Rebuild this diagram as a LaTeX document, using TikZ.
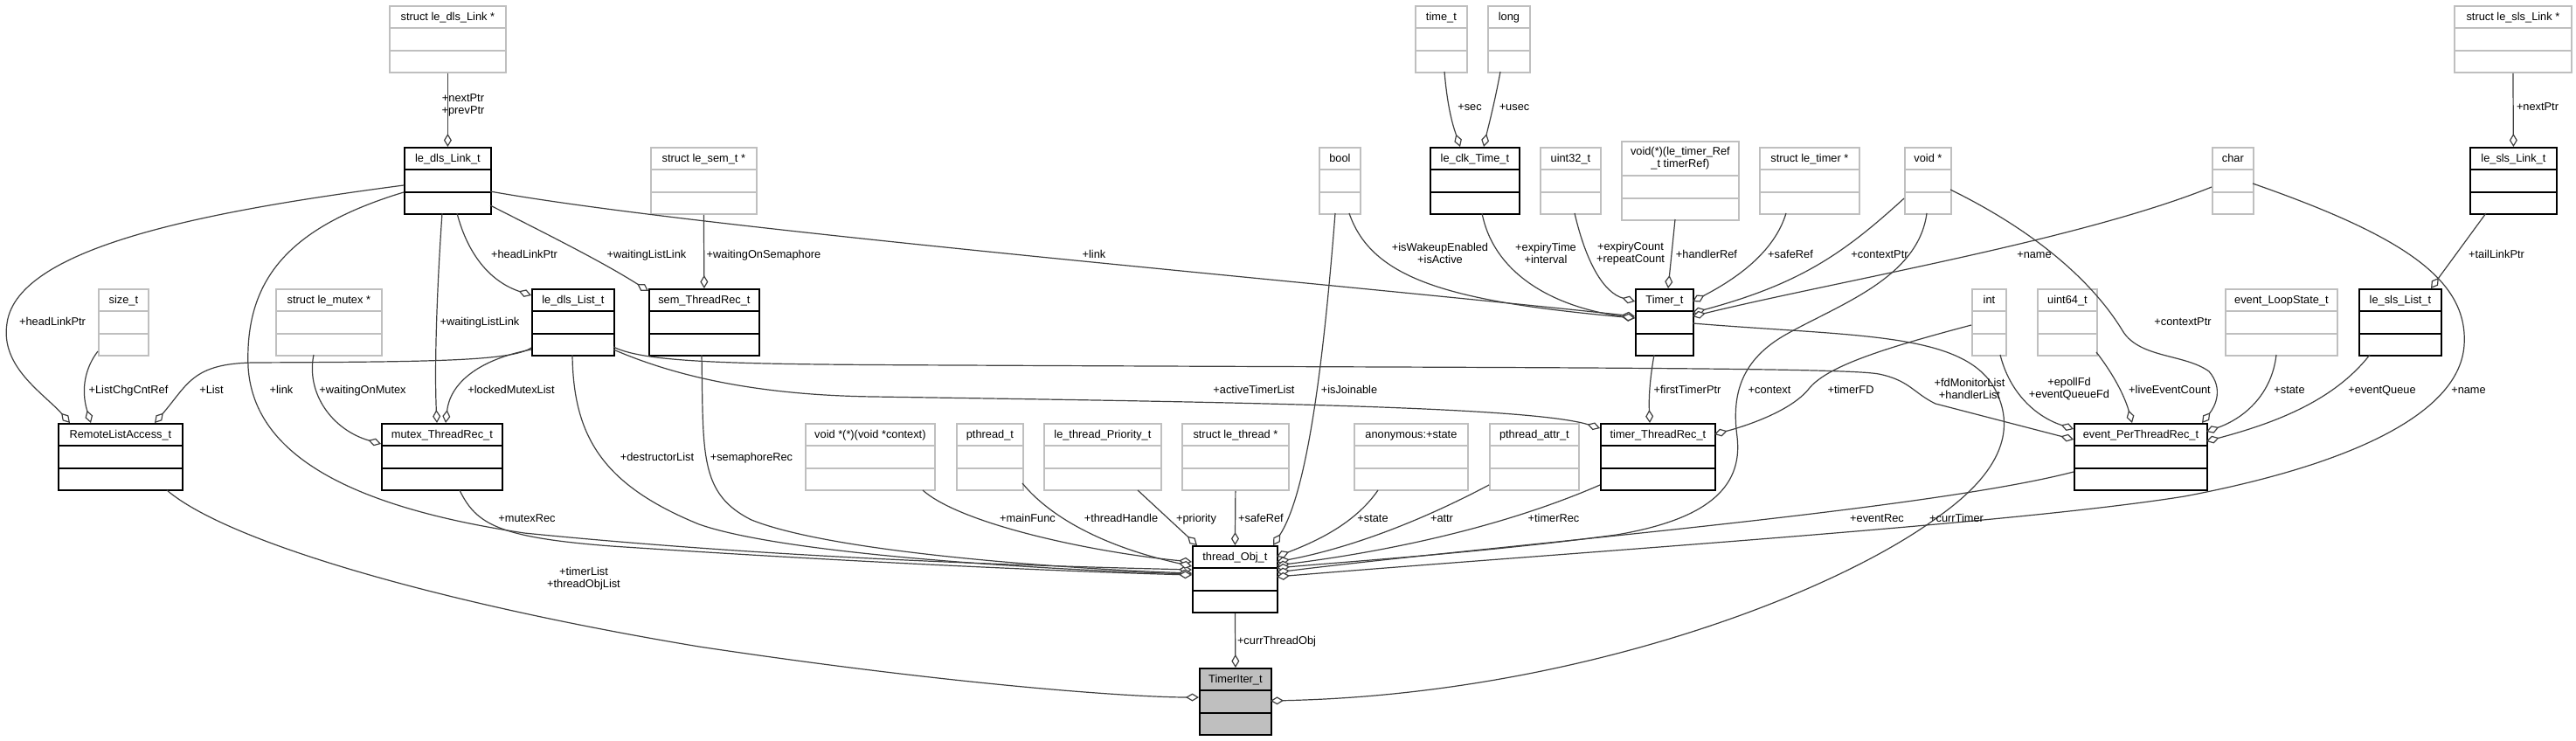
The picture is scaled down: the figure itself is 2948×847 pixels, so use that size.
\documentclass[tikz,border=0pt]{standalone}
\usepackage{fontspec}
\setmainfont{Liberation Sans}
\usetikzlibrary{arrows.meta}
\definecolor{boxgray}{HTML}{BFBFBF}
\definecolor{linegray}{HTML}{404040}

\begin{document}
\begin{tikzpicture}[x=1pt,y=-1pt,
        font=\fontsize{12.8}{14}\selectfont,
        >={Diamond[length=15pt,width=9pt,fill=white]},
        box/.style={draw=#1, line width=1.8pt, fill=white, anchor=north west, inner sep=0pt,
            text height=16.5pt, text depth=59.5pt,
            path picture={\draw[#1, line width=1.8pt]
                ([yshift=25.3pt]path picture bounding box.south west) -- ([yshift=25.3pt]path picture bounding box.south east)
                ([yshift=50.6pt]path picture bounding box.south west) -- ([yshift=50.6pt]path picture bounding box.south east);}},
        cls/.style={box=black},
        typ/.style={box=boxgray},
        agg/.style={->, draw=linegray, line width=1.2pt},
        lbl/.style={anchor=base, inner sep=0pt},
        lbltwo/.style={align=center, inner sep=0pt}]
    \useasboundingbox (0,0) rectangle (2948,847);

    % row 0
    \node[typ, minimum width=133pt] (dlsLinkPtr) at (445,6) {struct le\_dls\_Link *};
    \node[typ, minimum width=59pt] (timeT) at (1619,6) {time\_t};
    \node[typ, minimum width=48pt] (longT) at (1702,6) {long};
    \node[typ, minimum width=134pt] (slsLinkPtr) at (2808,6) {struct le\_sls\_Link *};
    % row 1
    \node[cls, minimum width=99pt] (dlsLink) at (462,168) {le\_dls\_Link\_t};
    \node[typ, minimum width=121pt] (semPtr) at (744,168) {struct le\_sem\_t *};
    \node[typ, minimum width=47pt] (boolT) at (1509,168) {bool};
    \node[cls, minimum width=102pt] (clkTime) at (1636,168) {le\_clk\_Time\_t};
    \node[typ, minimum width=69pt] (uint32T) at (1762,168) {uint32\_t};
    \node[typ, minimum width=134pt, text height=16pt, text depth=74pt] (handlerFn) at (1855,161)
        {\begin{tabular}[t]{@{}c@{}}void(*)(le\_timer\_Ref\\\_t timerRef)\end{tabular}};
    \node[typ, minimum width=114pt] (timerPtr) at (2013,168) {struct le\_timer *};
    \node[typ, minimum width=53pt] (voidPtr) at (2179,168) {void *};
    \node[typ, minimum width=47pt] (charT) at (2531,168) {char};
    \node[cls, minimum width=99pt] (slsLink) at (2826,168) {le\_sls\_Link\_t};
    % row 2
    \node[typ, minimum width=57pt] (sizeT) at (112,330) {size\_t};
    \node[typ, minimum width=121pt] (mutexPtr) at (315,330) {struct le\_mutex *};
    \node[cls, minimum width=94pt] (dlsList) at (608,330) {le\_dls\_List\_t};
    \node[cls, minimum width=126pt] (semRec) at (742,330) {sem\_ThreadRec\_t};
    \node[cls, minimum width=66pt] (timer) at (1871,330) {Timer\_t};
    \node[typ, minimum width=39pt] (intT) at (2256,330) {int};
    \node[typ, minimum width=68pt] (uint64T) at (2331,330) {uint64\_t};
    \node[typ, minimum width=128pt] (loopState) at (2546,330) {event\_LoopState\_t};
    \node[cls, minimum width=94pt] (slsList) at (2699,330) {le\_sls\_List\_t};
    % row 3
    \node[cls, minimum width=142pt] (remoteList) at (66,484) {RemoteListAccess\_t};
    \node[cls, minimum width=138pt] (mutexRec) at (436,484) {mutex\_ThreadRec\_t};
    \node[typ, minimum width=148pt] (mainFn) at (921,484) {void *(*)(void *context)};
    \node[typ, minimum width=76pt] (pthreadT) at (1094,484) {pthread\_t};
    \node[typ, minimum width=134pt] (priorityT) at (1194,484) {le\_thread\_Priority\_t};
    \node[typ, minimum width=122pt] (threadPtr) at (1352,484) {struct le\_thread *};
    \node[typ, minimum width=130pt] (stateT) at (1549,484) {anonymous:+state};
    \node[typ, minimum width=102pt] (attrT) at (1704,484) {pthread\_attr\_t};
    \node[cls, minimum width=131pt] (timerRec) at (1831,484) {timer\_ThreadRec\_t};
    \node[cls, minimum width=152pt] (eventRec) at (2373,484) {event\_PerThreadRec\_t};
    % rows 4 and 5
    \node[cls, minimum width=97pt] (threadObj) at (1364,624) {thread\_Obj\_t};
    \node[cls, fill=boxgray, minimum width=82pt] (timerIter) at (1372,764) {TimerIter\_t};

    % aggregations
    \draw[agg] (dlsLinkPtr.south) -- (dlsLink.north);
    \draw[agg] ([shift={(0,44)}]dlsLink.north west) .. controls (250,240) and (20,280) .. (8,370) .. controls (0,420) and (50,450) .. ([shift={(14,0)}]remoteList.north west);
    \draw[agg] ([shift={(0,72)}]sizeT.north west) .. controls (98,420) and (92,445) .. ([shift={(38,0)}]remoteList.north west);
    \draw[agg] ([shift={(0,68)}]dlsList.north west) .. controls (585,414) and (480,414) .. (290,415) .. controls (220,416) and (215,440) .. ([shift={(111,0)}]remoteList.north west);
    \draw[agg] ([shift={(0,52)}]dlsLink.north west) .. controls (330,260) and (280,320) .. (284,420) .. controls (290,520) and (400,580) .. (600,610) .. controls (900,640) and (1200,648) .. ([shift={(0,28)}]threadObj.north west);
    \draw[agg] ([shift={(44,76)}]dlsLink.north west) .. controls (500,330) and (497,420) .. ([shift={(64,0)}]mutexRec.north west);
    \draw[agg] ([shift={(0,70)}]dlsList.north west) .. controls (545,412) and (515,440) .. ([shift={(74,0)}]mutexRec.north west);
    \draw[agg] ([shift={(61,76)}]dlsLink.north west) .. controls (535,290) and (560,322) .. ([shift={(0,8)}]dlsList.north west);
    \draw[agg] ([shift={(99,67)}]dlsLink.north west) .. controls (630,270) and (690,300) .. ([shift={(0,3)}]semRec.north west);
    \draw[agg] ([shift={(99,51)}]dlsLink.north west) .. controls (800,262) and (1500,322) .. ([shift={(0,32)}]timer.north west);
    \draw[agg] (semPtr.south) -- (semRec.north);
    \draw[agg] ([shift={(35,76)}]boolT.north west) .. controls (1570,320) and (1660,345) .. ([shift={(0,34)}]timer.north west);
    \draw[agg] ([shift={(60,76)}]clkTime.north west) .. controls (1710,315) and (1780,352) .. ([shift={(0,34)}]timer.north west);
    \draw[agg] ([shift={(40,76)}]uint32T.north west) .. controls (1815,300) and (1835,335) .. ([shift={(0,15)}]timer.north west);
    \draw[agg] ([shift={(62,90)}]handlerFn.north west) -- ([shift={(38,0)}]timer.north west);
    \draw[agg] ([shift={(31,76)}]timerPtr.north west) .. controls (2030,290) and (1985,320) .. ([shift={(66,15)}]timer.north west);
    \draw[agg] ([shift={(0,59)}]voidPtr.north west) .. controls (2110,290) and (2060,325) .. ([shift={(66,28)}]timer.north west);
    \draw[agg] ([shift={(0,46)}]charT.north west) .. controls (2380,275) and (2100,322) .. ([shift={(66,32)}]timer.north west);
    \draw[agg] ([shift={(34,76)}]timeT.north west) .. controls (1657,130) and (1665,150) .. ([shift={(35,0)}]clkTime.north west);
    \draw[agg] ([shift={(15,76)}]longT.north west) .. controls (1710,120) and (1702,150) .. ([shift={(62,0)}]clkTime.north west);
    \draw[agg] (slsLinkPtr.south) -- (slsLink.north);
    \draw[agg] ([shift={(19,76)}]slsLink.north west) -- ([shift={(83,0)}]slsList.north west);
    \draw[agg] ([shift={(94,67)}]dlsList.north west) .. controls (740,416) and (850,417) .. (1100,418) .. controls (1700,421) and (2110,420) .. (2150,428) .. controls (2185,435) and (2190,450) .. (2215,462) -- ([shift={(0,19)}]eventRec.north west);
    \draw[agg] ([shift={(94,70)}]dlsList.north west) .. controls (760,425) and (850,452) .. (1000,454) .. controls (1400,460) and (1750,465) .. ([shift={(0,6)}]timerRec.north west);
    \draw[agg] ([shift={(47,76)}]dlsList.north west) .. controls (656,500) and (690,555) .. (800,600) .. controls (900,635) and (1200,652) .. ([shift={(0,33)}]threadObj.north west);
    \draw[agg] ([shift={(61,76)}]semRec.north west) .. controls (805,520) and (800,565) .. (860,595) .. controls (960,635) and (1250,652) .. ([shift={(0,32)}]threadObj.north west);
    \draw[agg] ([shift={(90,77)}]mutexRec.north west) .. controls (545,600) and (570,615) .. (700,625) .. controls (1000,645) and (1250,655) .. ([shift={(0,34)}]threadObj.north west);
    \draw[agg] ([shift={(44,76)}]mutexPtr.north west) .. controls (350,450) and (380,492) .. ([shift={(0,24)}]mutexRec.north west);
    \draw[agg] ([shift={(125,77)}]remoteList.north west) .. controls (260,620) and (500,690) .. (800,740) .. controls (1100,785) and (1300,798) .. ([shift={(0,34)}]timerIter.north west);
    \draw[agg] ([shift={(135,77)}]mainFn.north west) .. controls (1100,600) and (1250,632) .. ([shift={(0,19)}]threadObj.north west);
    \draw[agg] ([shift={(76,69)}]pthreadT.north west) .. controls (1200,590) and (1260,625) .. ([shift={(0,24)}]threadObj.north west);
    \draw[agg] ([shift={(108,77)}]priorityT.north west) -- ([shift={(6,0)}]threadObj.north west);
    \draw[agg] (threadPtr.south) -- (threadObj.north);
    \draw[agg] ([shift={(19,76)}]boolT.north west) .. controls (1512,450) and (1492,570) .. ([shift={(93,0)}]threadObj.north west);
    \draw[agg] ([shift={(28,77)}]stateT.north west) .. controls (1550,600) and (1505,620) .. ([shift={(97,13)}]threadObj.north west);
    \draw[agg] ([shift={(0,71)}]attrT.north west) .. controls (1600,610) and (1520,632) .. ([shift={(97,19)}]threadObj.north west);
    \draw[agg] ([shift={(0,71)}]timerRec.north west) .. controls (1700,612) and (1550,636) .. ([shift={(97,23)}]threadObj.north west);
    \draw[agg] ([shift={(26,76)}]voidPtr.north west) .. controls (2195,320) and (2100,350) .. (2040,385) .. controls (1990,415) and (1982,455) .. (1988,500) .. controls (1995,560) and (1950,595) .. (1850,612) .. controls (1700,632) and (1550,642) .. ([shift={(97,26)}]threadObj.north west);
    \draw[agg] ([shift={(0,56)}]eventRec.north west) .. controls (2200,585) and (1700,625) .. ([shift={(97,31)}]threadObj.north west);
    \draw[agg] ([shift={(47,42)}]charT.north west) .. controls (2750,270) and (2825,320) .. (2820,395) .. controls (2815,470) and (2700,530) .. (2500,568) .. controls (2300,600) and (1800,632) .. ([shift={(97,36)}]threadObj.north west);
    \draw[agg] ([shift={(66,40)}]timer.north west) .. controls (2120,385) and (2240,380) .. (2280,440) .. controls (2310,490) and (2290,540) .. (2220,590) .. controls (2100,680) and (1800,795) .. ([shift={(82,38)}]timerIter.north west);
    \draw[agg] (threadObj.south) -- (timerIter.north);
    \draw[agg] ([shift={(22,76)}]timer.north west) .. controls (1887,440) and (1887,460) .. ([shift={(57,0)}]timerRec.north west);
    \draw[agg] ([shift={(0,42)}]intT.north west) .. controls (2150,400) and (2090,420) .. (2070,445) .. controls (2050,470) and (2000,487) .. ([shift={(131,13)}]timerRec.north west);
    \draw[agg] ([shift={(33,76)}]intT.north west) .. controls (2300,450) and (2330,477) .. ([shift={(0,7)}]eventRec.north west);
    \draw[agg] ([shift={(68,73)}]uint64T.north west) .. controls (2420,430) and (2432,455) .. ([shift={(67,0)}]eventRec.north west);
    \draw[agg] ([shift={(53,49)}]voidPtr.north west) .. controls (2340,270) and (2400,330) .. (2430,380) .. controls (2450,410) and (2500,405) .. (2528,425) .. controls (2545,445) and (2535,465) .. ([shift={(147,0)}]eventRec.north west);
    \draw[agg] ([shift={(59,76)}]loopState.north west) .. controls (2600,450) and (2570,478) .. ([shift={(152,10)}]eventRec.north west);
    \draw[agg] ([shift={(13,76)}]slsList.north west) .. controls (2670,460) and (2600,485) .. ([shift={(152,21)}]eventRec.north west);

    % member names
    \node[lbltwo] (lNextPrev) at (530,120) {+nextPtr\\+prevPtr};
    \node[lbl] (lHeadLinkL) at (60,372) {+headLinkPtr};
    \node[lbl] (lChgCnt) at (147,450) {+ListChgCntRef};
    \node[lbl] (lList) at (242,450) {+List};
    \node[lbl] (lLinkL) at (322,450) {+link};
    \node[lbl] (lWaitMutex) at (415,450) {+waitingOnMutex};
    \node[lbl] (lWaitLinkA) at (549,372) {+waitingListLink};
    \node[lbl] (lLockedMutex) at (585,450) {+lockedMutexList};
    \node[lbl] (lHeadLinkR) at (600,295) {+headLinkPtr};
    \node[lbl] (lWaitLinkB) at (740,295) {+waitingListLink};
    \node[lbl] (lWaitSem) at (874,295) {+waitingOnSemaphore};
    \node[lbl] (lLinkR) at (1252,295) {+link};
    \node[lbl] (lDestructor) at (752,527) {+destructorList};
    \node[lbl] (lSemRec) at (860,527) {+semaphoreRec};
    \node[lbl] (lMutexRec) at (603,597) {+mutexRec};
    \node[lbltwo] (lTimerList) at (668,662) {+timerList\\+threadObjList};
    \node[lbl] (lMainFunc) at (1176,597) {+mainFunc};
    \node[lbl] (lThreadHandle) at (1283,597) {+threadHandle};
    \node[lbl] (lPriority) at (1369,597) {+priority};
    \node[lbl] (lSafeRefA) at (1443,597) {+safeRef};
    \node[lbl] (lState) at (1571,597) {+state};
    \node[lbl] (lAttr) at (1650,597) {+attr};
    \node[lbl] (lTimerRec) at (1778,597) {+timerRec};
    \node[lbl] (lEventRec) at (2148,597) {+eventRec};
    \node[lbl] (lCurrTimer) at (2239,597) {+currTimer};
    \node[lbl] (lCurrThread) at (1461,737) {+currThreadObj};
    \node[lbl] (lActiveTimer) at (1435,450) {+activeTimerList};
    \node[lbl] (lJoinable) at (1544,450) {+isJoinable};
    \node[lbl] (lFirstTimer) at (1931,450) {+firstTimerPtr};
    \node[lbl] (lContext) at (2025,450) {+context};
    \node[lbl] (lTimerFD) at (2118,450) {+timerFD};
    \node[lbltwo] (lFdMonitor) at (2254,445) {+fdMonitorList\\+handlerList};
    \node[lbltwo] (lEpoll) at (2368,445) {+epollFd\\+eventQueueFd};
    \node[lbl] (lLiveCount) at (2483,450) {+liveEventCount};
    \node[lbl] (lStateB) at (2620,450) {+state};
    \node[lbl] (lEventQueue) at (2726,450) {+eventQueue};
    \node[lbl] (lNameB) at (2825,450) {+name};
    \node[lbltwo] (lWakeup) at (1648,290) {+isWakeupEnabled\\+isActive};
    \node[lbltwo] (lExpiryTime) at (1769,290) {+expiryTime\\+interval};
    \node[lbltwo] (lExpiryCount) at (1866,290) {+expiryCount\\+repeatCount};
    \node[lbl] (lHandlerRef) at (1953,295) {+handlerRef};
    \node[lbl] (lSafeRefB) at (2049,295) {+safeRef};
    \node[lbl] (lContextPtrA) at (2151,295) {+contextPtr};
    \node[lbl] (lNameA) at (2328,295) {+name};
    \node[lbl] (lTailLink) at (2857,295) {+tailLinkPtr};
    \node[lbl] (lContextPtrB) at (2498,372) {+contextPtr};
    \node[lbl] (lSec) at (1682,126) {+sec};
    \node[lbl] (lUsec) at (1733,126) {+usec};
    \node[lbl] (lNextSls) at (2904,126) {+nextPtr};
\end{tikzpicture}
\end{document}
